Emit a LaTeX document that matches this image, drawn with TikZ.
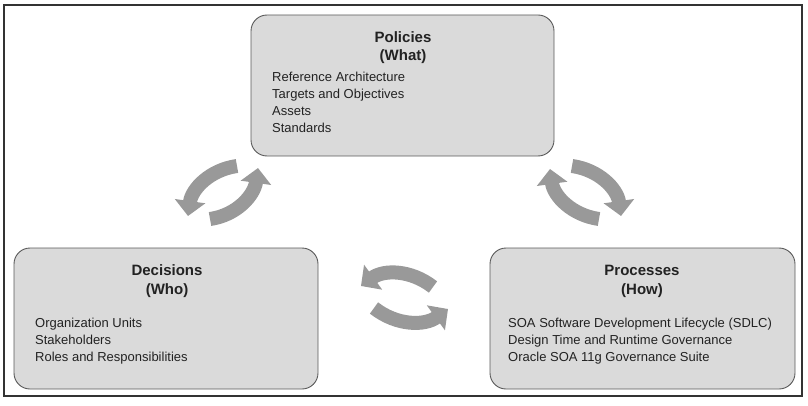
\documentclass[tikz,border=0pt]{standalone}
\usepackage{fontspec}
\setmainfont{Liberation Sans}
\usetikzlibrary{arrows.meta}
\definecolor{boxfill}{HTML}{DADADA}
\definecolor{boxline}{HTML}{5A5A5A}
\definecolor{arrowgray}{HTML}{999999}
\definecolor{txt}{HTML}{222222}
\begin{document}
\begin{tikzpicture}[x=1pt,y=1pt,
  panel/.style={draw=boxline, fill=boxfill, line width=0.9pt, rounded corners=16pt, inner sep=0pt},
  ttl/.style={font=\fontsize{15}{18}\selectfont\bfseries, text=txt, anchor=base, inner sep=0pt},
  itm/.style={font=\fontsize{13}{16}\selectfont, text=txt, anchor=base west, inner sep=0pt},
  cyc/.style={draw=arrowgray, line width=14pt, -{Triangle[length=15pt,width=30pt]}}
]
\useasboundingbox (0,0) rectangle (808,405);
\draw[line width=1.2pt, draw=black!80] (4,9) rectangle (802,400);

% panels
\node[panel, minimum width=303pt, minimum height=141pt] (policies) at (402.5,319.5) {};
\node[panel, minimum width=304pt, minimum height=141pt] (decisions) at (166,86.5) {};
\node[panel, minimum width=305pt, minimum height=141pt] (processes) at (642.5,86.5) {};

% Policies text
\node[ttl] (poltitle) at (403,362.6) {Policies};
\node[ttl] (polwhat) at (403,344.6) {(What)};
\node[itm] (pol1) at (272,323.4) {Reference Architecture};
\node[itm] (pol2) at (272,306.5) {Targets and Objectives};
\node[itm] (pol3) at (272,289.6) {Assets};
\node[itm] (pol4) at (272,272.7) {Standards};

% Decisions text
\node[ttl] (dectitle) at (167,129.6) {Decisions};
\node[ttl] (decwho) at (167,110.6) {(Who)};
\node[itm] (dec1) at (35,77.4) {Organization Units};
\node[itm] (dec2) at (35,60.4) {Stakeholders};
\node[itm] (dec3) at (35,43.4) {Roles and Responsibilities};

% Processes text
\node[ttl] (protitle) at (642,129.6) {Processes};
\node[ttl] (prohow) at (642,110.6) {(How)};
\node[itm] (pro1) at (508,77.4) {SOA Software Development Lifecycle (SDLC)};
\node[itm] (pro2) at (508,60.4) {Design Time and Runtime Governance};
\node[itm] (pro3) at (508,43.4) {Oracle SOA 11g Governance Suite};

% cycle arrows, left pair
\coordinate (la1) at (237,239);
\coordinate (lb1) at (188,189);
\coordinate (la2) at (210,186);
\coordinate (lb2) at (258,237);
\draw[cyc] (la1) to[out=188,in=82] (lb1);
\draw[cyc] (la2) to[out=8,in=262] (lb2);

% right pair
\coordinate (ra1) at (572,239);
\coordinate (rb1) at (621,189);
\coordinate (ra2) at (599,186);
\coordinate (rb2) at (550,236);
\draw[cyc] (ra1) to[out=352,in=98] (rb1);
\draw[cyc] (ra2) to[out=172,in=278] (rb2);

% bottom middle pair
\coordinate (ma1) at (433,118);
\coordinate (mb1) at (361,119);
\coordinate (ma2) at (374,97);
\coordinate (mb2) at (448,96);
\draw[cyc] (ma1) to[out=142,in=36] (mb1);
\draw[cyc] (ma2) to[out=-38,in=216] (mb2);
\end{tikzpicture}
\end{document}
